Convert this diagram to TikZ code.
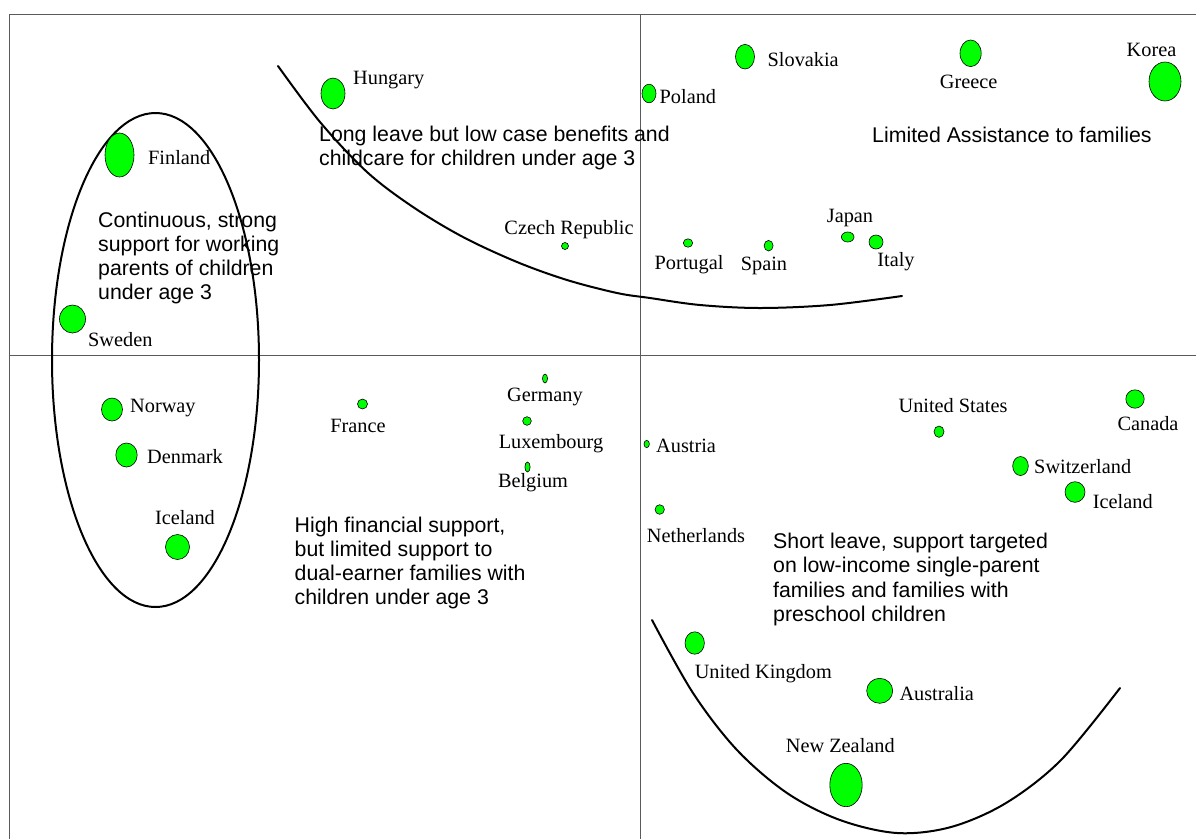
\documentclass[tikz,border=0pt]{standalone}
\usepackage{fontspec}
\setmainfont{Liberation Serif}
\setsansfont{Liberation Sans}
\usetikzlibrary{shapes.geometric}
\definecolor{dotgreen}{RGB}{0,255,0}
\definecolor{axisgray}{RGB}{90,90,90}
\tikzset{
  axisline/.style={draw=axisgray, line width=0.9pt},
  groupline/.style={draw=black, line width=2pt, line cap=round},
  dot/.style={ellipse, draw=black, line width=0.6pt, fill=dotgreen, inner sep=0pt},
  lbl/.style={font=\fontsize{20.3}{24}\selectfont, inner sep=0pt},
  note/.style={font=\sffamily\fontsize{21.3}{24.3}\selectfont, inner sep=0pt, align=left, anchor=west}
}
% dot of half-widths #2,#3 named #1
\newcommand{\country}[4]{\node[dot, minimum width=#2*2pt, minimum height=#3*2pt] (#1) at (#4) {};}
\begin{document}
\begin{tikzpicture}[x=1pt, y=-1pt]
\useasboundingbox (0,0) rectangle (1196,839);

% frame and axes
\coordinate (tl) at (9,14);
\coordinate (tr) at (1196,14);
\coordinate (bl) at (9,839);
\coordinate (axl) at (9,355);
\coordinate (axr) at (1196,355);
\coordinate (ayt) at (640,14);
\coordinate (ayb) at (640,839);
\draw[axisline] (tr) -- (tl) -- (bl);
\draw[axisline] (axl) -- (axr);
\draw[axisline] (ayt) -- (ayb);

% group outlines
\draw[groupline] (155.5,360) ellipse [x radius=103.5, y radius=247];
\draw[groupline] plot[smooth, tension=0.55] coordinates {
  (278,66) (320,122) (367,172) (413,207) (463,237) (517,262) (567,280)
  (617,293) (650,298) (700,305) (760,308) (830,305) (902,296)};
\draw[groupline] plot[smooth, tension=0.55] coordinates {
  (652,620) (693,693) (737,750) (787,793) (840,820) (897,833)
  (951,827) (1006,803) (1061,760) (1120,688)};

% countries
\country{hungary}{12}{15.5}{333,93.5}
\node[lbl, anchor=west] (hungary-l) at (353,80) {Hungary};
\country{finland}{14.5}{22}{119.5,155}
\node[lbl, anchor=west] (finland-l) at (148,158) {Finland};
\country{sweden}{13}{14}{72.5,319}
\node[lbl, anchor=west] (sweden-l) at (88,340) {Sweden};
\country{norway}{10.5}{11.5}{112,409.5}
\node[lbl, anchor=west] (norway-l) at (130,408) {Norway};
\country{denmark}{10.7}{12}{126.5,455}
\node[lbl, anchor=west] (denmark-l) at (147,457) {Denmark};
\country{icelandw}{12}{12.5}{177.5,547}
\node[lbl] (icelandw-l) at (185,518) {Iceland};
\country{france}{5}{5}{362.5,404}
\node[lbl] (france-l) at (358,426) {France};
\country{germany}{2.5}{4.5}{545,378.5}
\node[lbl] (germany-l) at (545,397) {Germany};
\country{luxembourg}{4.3}{4.3}{527,421}
\node[lbl] (luxembourg-l) at (551,444) {Luxembourg};
\country{belgium}{2.6}{5}{527.5,467}
\node[lbl] (belgium-l) at (533,483) {Belgium};
\country{czech}{3.5}{3.5}{565,246}
\node[lbl] (czech-l) at (569,230) {Czech Republic};
\country{poland}{7}{9.3}{649,93.5}
\node[lbl, anchor=west] (poland-l) at (659.5,97) {Poland};
\country{slovakia}{9.5}{12.3}{745,56.7}
\node[lbl, anchor=west] (slovakia-l) at (767.5,60) {Slovakia};
\country{greece}{10.6}{13.3}{970.6,53.3}
\node[lbl] (greece-l) at (968.6,82) {Greece};
\country{korea}{16}{19.5}{1165,81.5}
\node[lbl] (korea-l) at (1151.5,50) {Korea};
\country{portugal}{4.7}{4.2}{688,243}
\node[lbl] (portugal-l) at (689,265) {Portugal};
\country{spain}{4.5}{5.3}{768.6,245.7}
\node[lbl] (spain-l) at (764,266) {Spain};
\country{japan}{6.3}{5}{847.7,237}
\node[lbl] (japan-l) at (850,218.5) {Japan};
\country{italy}{7}{7}{876,242}
\node[lbl] (italy-l) at (896,262) {Italy};
\country{austria}{2.7}{3.7}{646.7,444}
\node[lbl, anchor=west] (austria-l) at (656,445.7) {Austria};
\country{netherlands}{4.7}{4.8}{659.7,509.5}
\node[lbl] (netherlands-l) at (696,535.7) {Netherlands};
\country{usa}{5}{5.7}{939,431.7}
\node[lbl] (usa-l) at (953,406) {United States};
\country{canada}{9.2}{9.2}{1135,399}
\node[lbl] (canada-l) at (1148,424) {Canada};
\country{switzerland}{7.8}{9.5}{1020.5,466}
\node[lbl, anchor=west] (switzerland-l) at (1034,467) {Switzerland};
\country{icelande}{10}{10.3}{1075,492}
\node[lbl, anchor=west] (icelande-l) at (1092.7,501.7) {Iceland};
\country{uk}{9.7}{11.2}{694.7,643}
\node[lbl] (uk-l) at (763.3,674) {United Kingdom};
\country{australia}{13}{12.5}{879.7,690.8}
\node[lbl, anchor=west] (australia-l) at (899.3,694) {Australia};
\country{newzealand}{16.2}{21.7}{846,785}
\node[lbl] (newzealand-l) at (840.3,745.7) {New Zealand};

% group descriptions
\node[note] (n-long) at (319,148) {Long leave but low case benefits and\\childcare for children under age 3};
\node[note] (n-limited) at (872,135) {Limited Assistance to families};
\node[note] (n-cont) at (98,258) {Continuous, strong\\support for working\\parents of children\\under age 3};
\node[note] (n-high) at (294.5,563) {High financial support,\\but limited support to\\dual-earner families with\\children under age 3};
\node[note] (n-short) at (773,579.5) {Short leave, support targeted\\on low-income single-parent\\families and families with\\preschool children};
\end{tikzpicture}
\end{document}
